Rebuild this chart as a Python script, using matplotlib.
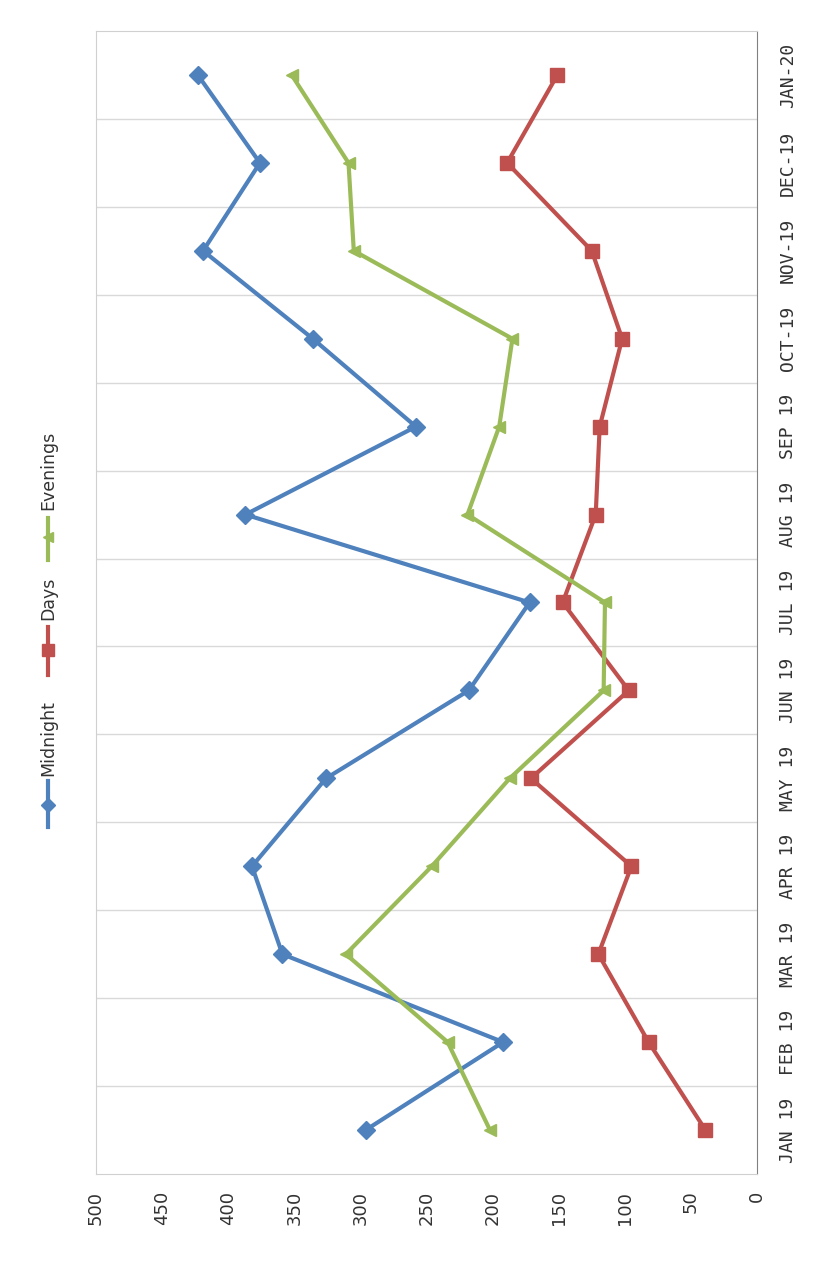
#
# Monthly counts by shift, drawn turned on its side like the scanned page.
#

import matplotlib
matplotlib.use('Agg')
import matplotlib.pyplot as plt
from matplotlib.lines import Line2D

months = ['JAN 19', 'FEB 19', 'MAR 19', 'APR 19', 'MAY 19', 'JUN 19',
          'JUL 19', 'AUG 19', 'SEP 19', 'OCT-19', 'NOV-19', 'DEC-19', 'JAN-20']
midnight = [296, 192, 359, 382, 326, 218, 172, 387, 258, 336, 419, 376, 423]
days = [39, 82, 120, 95, 171, 97, 147, 122, 119, 102, 125, 189, 151]
evenings = [202, 234, 311, 246, 187, 116, 115, 219, 195, 185, 305, 309, 352]
value_ticks = [0, 50, 100, 150, 200, 250, 300, 350, 400, 450, 500]

W, H = 817, 1268


def fx(px):
    return px / W


def fy(py):
    return 1 - py / H


def main():
    fig = plt.figure(figsize=(W / 100, H / 100), dpi=100)
    ax = fig.add_axes([fx(96), fy(1174), fx(757) - fx(96), fy(31) - fy(1174)])

    idx = list(range(len(months)))
    series = [
        ('Midnight', midnight, '#4F81BD', 'D', 9),
        ('Days', days, '#C0504D', 's', 10),
        ('Evenings', evenings, '#9BBB59', '<', 9),
    ]
    for name, vals, color, marker, ms in series:
        ax.plot(vals, idx, color=color, linewidth=3, marker=marker,
                markersize=ms, markeredgecolor=color)

    ax.set_xlim(500, 0)
    ax.set_ylim(-0.5, len(months) - 0.5)
    ax.set_xticks(value_ticks)
    ax.set_xticklabels([str(v) for v in value_ticks], rotation=90,
                       fontsize=13, color='#333333')
    ax.tick_params(axis='x', length=0, pad=12)

    ax.yaxis.tick_right()
    ax.set_yticks(idx)
    ax.set_yticklabels(months, rotation=90, va='center',
                       family='DejaVu Sans Mono', fontsize=13, color='#333333')
    ax.tick_params(axis='y', length=0, pad=16)

    ax.set_yticks([i + 0.5 for i in idx[:-1]], minor=True)
    ax.tick_params(axis='y', which='minor', length=0)
    ax.grid(True, axis='y', which='minor', color='#d9d9d9', linewidth=1)

    for side in ['top', 'left', 'bottom']:
        ax.spines[side].set_color('#d0d0d0')
    ax.spines['right'].set_color('#808080')

    # legend, turned like the rest of the chart
    entries = [
        ('Midnight', '#4F81BD', 'D', 7, 827, 781, 805, 776),
        ('Days', '#C0504D', 's', 9, 675, 627, 650, 620),
        ('Evenings', '#9BBB59', '<', 7, 560, 518, 537, 510),
    ]
    for name, color, marker, ms, y0, y1, ym, yt in entries:
        fig.add_artist(Line2D([fx(48), fx(48)], [fy(y0), fy(y1)],
                              transform=fig.transFigure, color=color,
                              linewidth=3))
        fig.add_artist(Line2D([fx(48)], [fy(ym)], transform=fig.transFigure,
                              color=color, marker=marker, markersize=ms,
                              markeredgecolor=color))
        fig.text(fx(48), fy(yt), name, rotation=90, rotation_mode='anchor',
                 ha='left', va='center', fontsize=12.5, color='#333333')

    fig.savefig('out.png', dpi=100)


if __name__ == '__main__':
    main()
